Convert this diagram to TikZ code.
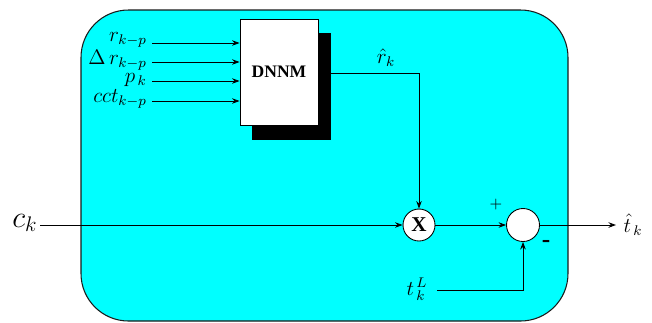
\documentclass[tikz,border=0pt]{standalone}
\usepackage{fontspec}
\setmainfont{Liberation Serif}
\usetikzlibrary{arrows.meta}
\definecolor{panelfill}{HTML}{00FFFF}
\definecolor{paneledge}{HTML}{1A1A1A}

\begin{document}
\begin{tikzpicture}[
  x=0.02cm, y=-0.02cm,
  panel/.style={draw=paneledge, fill=panelfill, line width=0.6pt, rounded corners=0.95cm},
  net/.style={rectangle, draw=black, fill=white, line width=0.5pt, minimum width=1.56cm,
              minimum height=2.12cm, font=\normalsize\bfseries},
  netshadow/.style={rectangle, fill=black, minimum width=1.58cm, minimum height=2.14cm},
  mult/.style={circle, draw=black, fill=white, line width=0.5pt, minimum size=0.64cm,
               inner sep=0pt, font=\large\bfseries},
  sum/.style={circle, draw=black, fill=white, line width=0.5pt, minimum size=0.66cm,
              inner sep=0pt},
  arr/.style={line width=0.5pt, -{Stealth[length=1.5mm, width=1.1mm]}},
  lab/.style={font=\large, inner sep=0pt},
  sgn/.style={font=\small, inner sep=0pt},
]
\useasboundingbox (0,0) rectangle (652,322);
% cyan panel of the estimator
\path[panel] (81,10) rectangle (568,321);
% neural network block with its drop shadow
\node[netshadow] (shadow) at (291.5,86.5) {};
\node[net] (net) at (279,72) {DNNM};
% network inputs
\node[lab, anchor=east] (in1) at (147,40) {$r_{k-p}$};
\node[lab, anchor=east] (in2) at (147,60) {$\Delta\, r_{k-p}$};
\node[lab, anchor=east] (in3) at (147,80) {$p_{\,k}$};
\node[lab, anchor=east] (in4) at (147,99) {$cct_{k-p}$};
\foreach \i/\yy in {1/43, 2/62, 3/81, 4/101}
  \draw[arr] (152,\yy) coordinate (s\i) -- (s\i -| net.west);
% multiplier and summing junction
\node[mult] (mult) at (419,225) {X};
\node[sum] (sum) at (523,225) {};
\node[sgn] (plus) at (496,205) {$+$};
\node[sgn, font=\Large\bfseries] (minus) at (546,244) {-};
% network output r_hat down to the multiplier
\node[lab] (rhat) at (386,58) {$\hat{r}_k$};
\draw[arr] (shadow.east |- 0,73) -- (mult |- 0,73) -- (mult.north);
% c_k into the multiplier
\node[font=\LARGE, inner sep=0pt] (ck) at (25,223) {$c_k$};
\draw[arr] (40,225) coordinate (cin) -- (mult.west);
\draw[arr] (mult.east) -- (sum.west);
% output t_hat
\node[lab] (that) at (633,225) {$\hat{t}_{\,k}$};
\draw[arr] (sum.east) -- (616,225) coordinate (tout);
% t_k^L into the summing junction
\node[lab] (tl) at (417,289) {$t_{\,k}^{\,L}$};
\draw[arr] (437,290) coordinate (tin) -- (tin -| sum) -- (sum.south);
\end{tikzpicture}
\end{document}
